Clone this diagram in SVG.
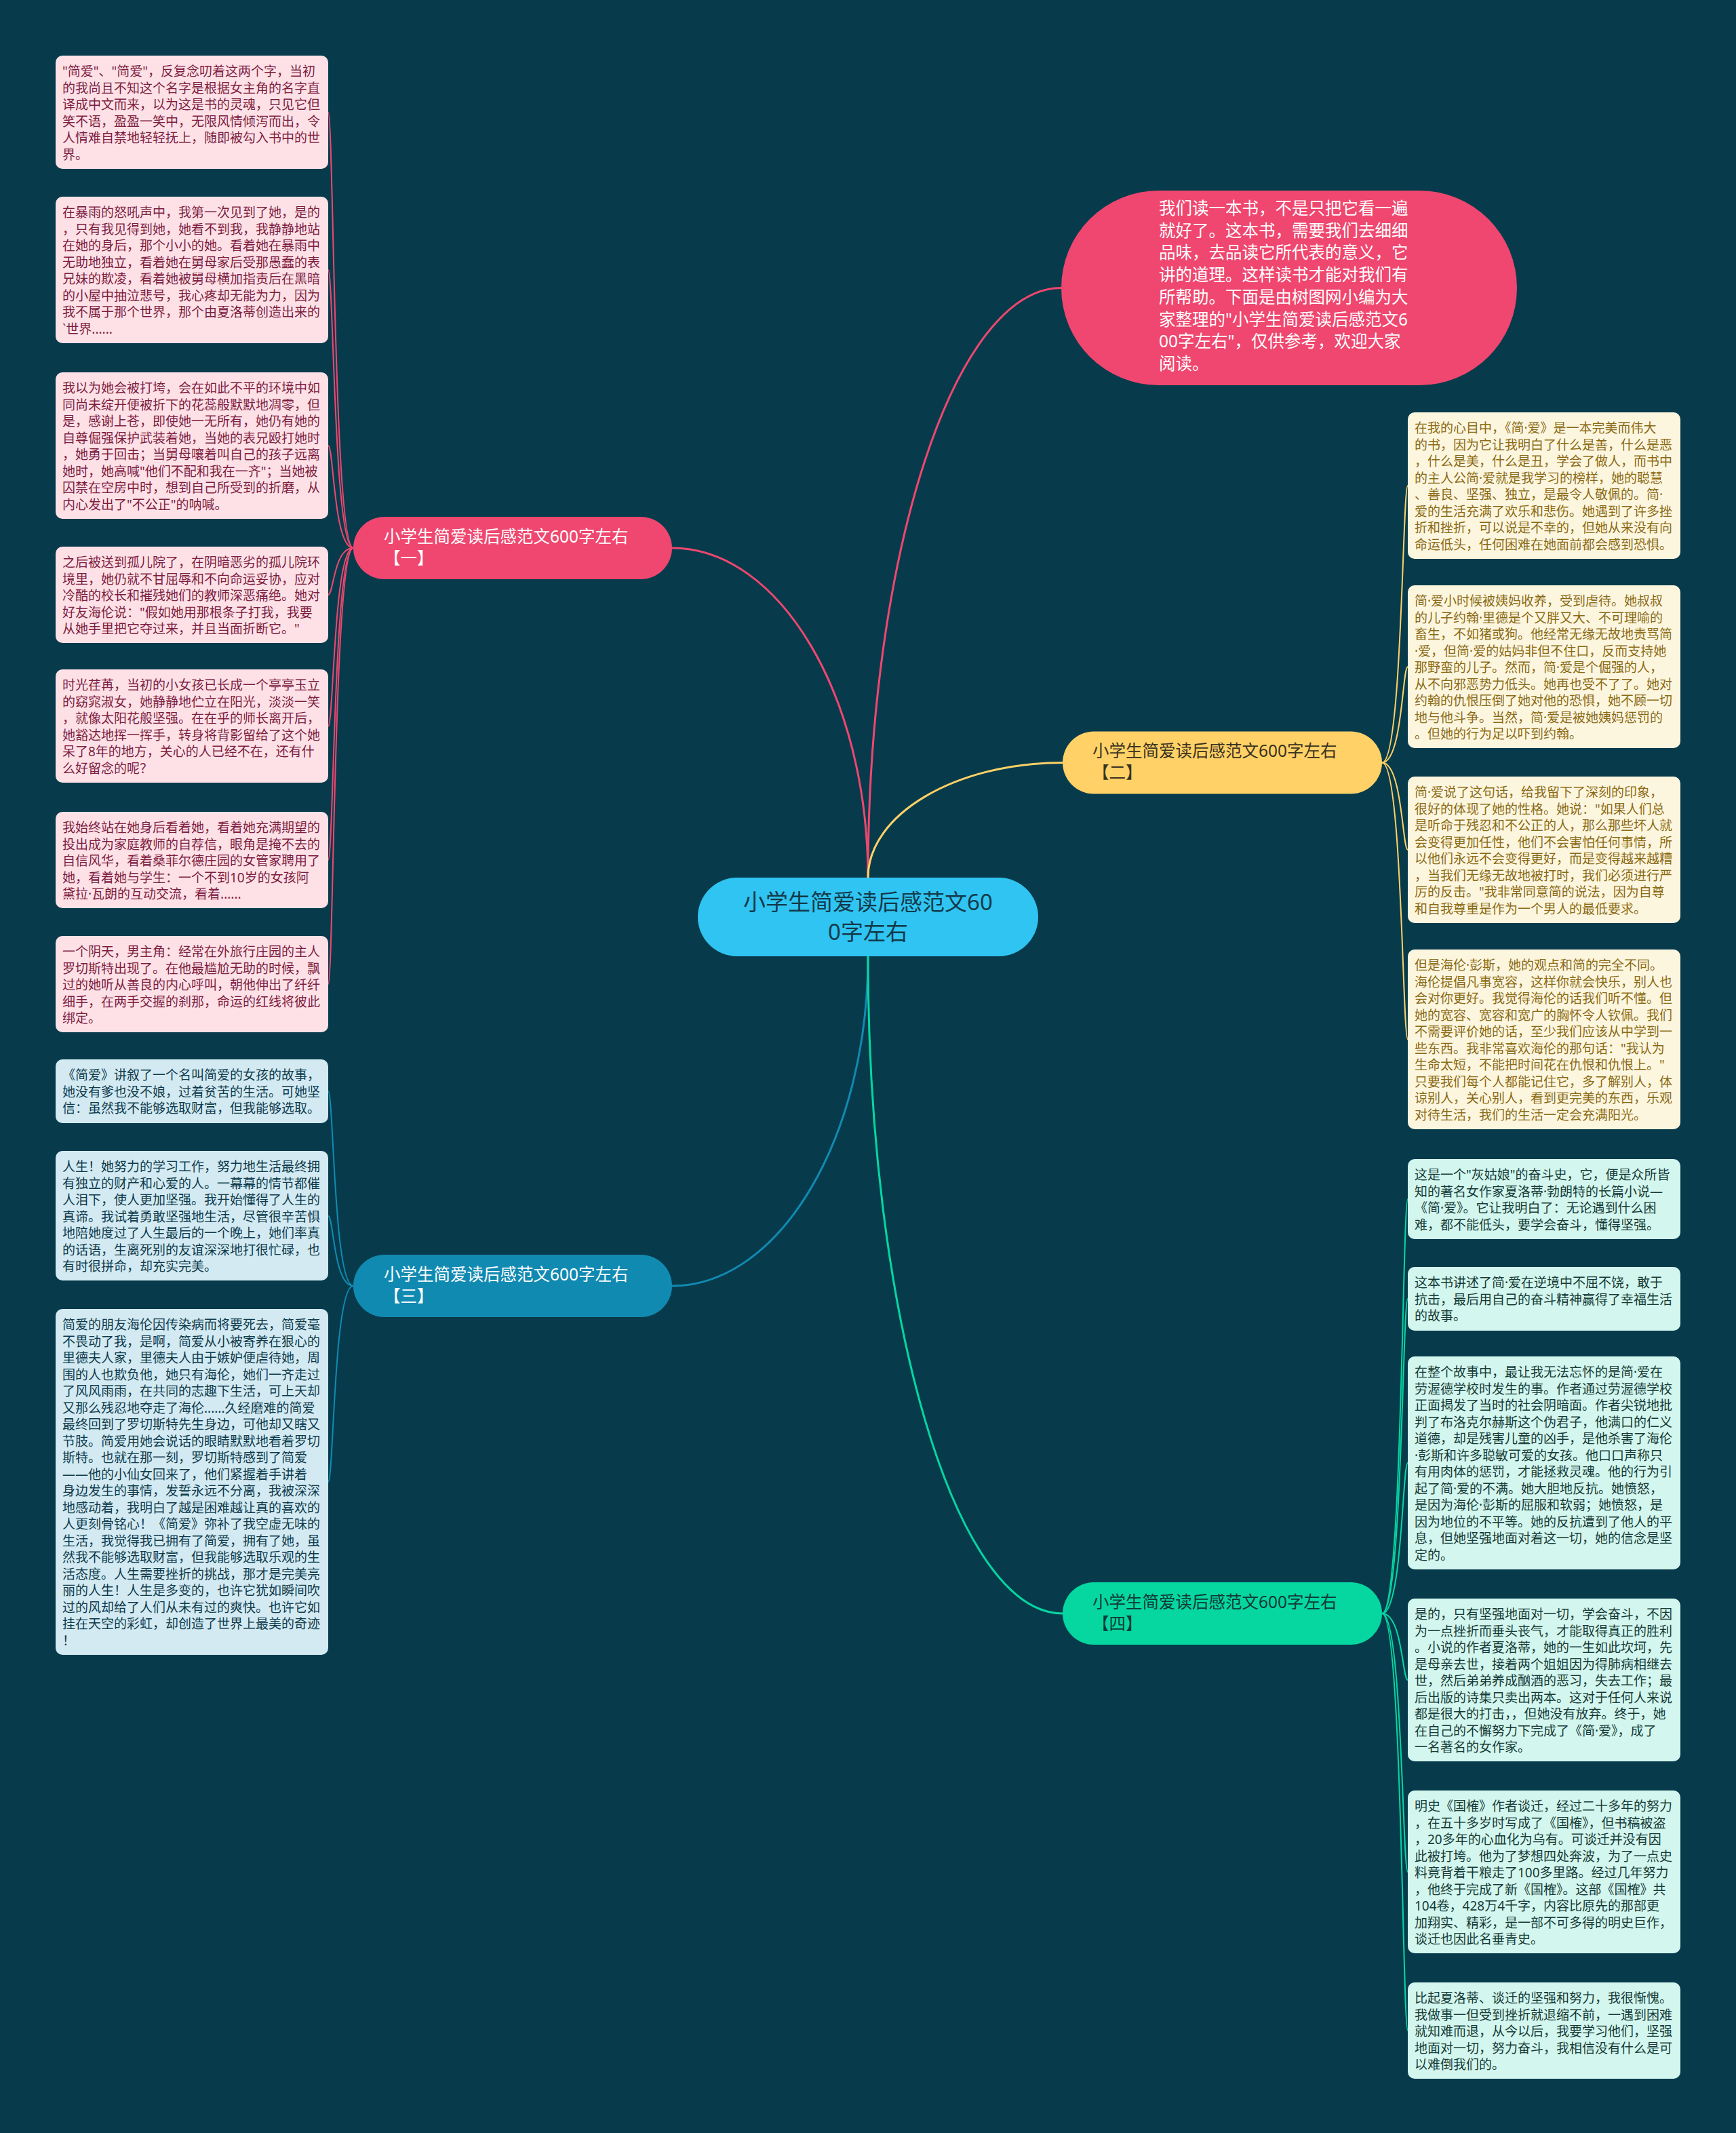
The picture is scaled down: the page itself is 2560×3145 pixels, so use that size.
<svg xmlns="http://www.w3.org/2000/svg" width="2560" height="3145" viewBox="0 0 2560 3145">
<defs>
<style>
text{font-family:"Noto Sans","Noto Sans CJK SC",sans-serif;}
.leaf{font-size:19px;}
.lp rect{fill:#fde1e7;}
.lp text{fill:#7d1d3f;}
.lb rect{fill:#d3eaf2;}
.lb text{fill:#0e3a4c;}
.ly rect{fill:#fdf6df;}
.ly text{fill:#8a6a14;}
.lg rect{fill:#d3f6ee;}
.lg text{fill:#153a36;}
.br{font-size:24.5px;}
.c{fill:none;stroke-linecap:round;}
.main{stroke-width:3;}
.sub{stroke-width:2;}
.pk{stroke:#ef476f;}
.yl{stroke:#ffd166;}
.bl{stroke:#118ab2;}
.gr{stroke:#06d6a0;}
</style>
</defs>
<rect x="0" y="0" width="2560" height="3145" fill="#073b4c"/>

<g id="connectors">
<path class="c main pk" d="M1280 1294 C1280 816 1408 424.5 1565 424.5"/>
<path class="c main pk" d="M1280 1294 C1280 1027 1150 808 991 808"/>
<path class="c main yl" d="M1280 1294 C1280 1201 1409 1124.5 1567 1124.5"/>
<path class="c main bl" d="M1280 1410 C1280 1677 1150 1896 991 1896"/>
<path class="c main gr" d="M1280 1410 C1280 1943 1409 2379 1567 2379"/>

<path class="c sub pk" d="M521 808 C492 808 492 165.5 484 165.5"/>
<path class="c sub pk" d="M521 808 C492 808 492 398 484 398"/>
<path class="c sub pk" d="M521 808 C492 808 492 657 484 657"/>
<path class="c sub pk" d="M521 808 C492 808 492 877 484 877"/>
<path class="c sub pk" d="M521 808 C492 808 492 1070.5 484 1070.5"/>
<path class="c sub pk" d="M521 808 C492 808 492 1268 484 1268"/>
<path class="c sub pk" d="M521 808 C492 808 492 1451 484 1451"/>

<path class="c sub bl" d="M521 1896 C492 1896 492 1609 484 1609"/>
<path class="c sub bl" d="M521 1896 C492 1896 492 1793 484 1793"/>
<path class="c sub bl" d="M521 1896 C492 1896 492 2185 484 2185"/>

<path class="c sub yl" d="M2038 1124.5 C2068 1124.5 2068 716 2076 716"/>
<path class="c sub yl" d="M2038 1124.5 C2068 1124.5 2068 983 2076 983"/>
<path class="c sub yl" d="M2038 1124.5 C2068 1124.5 2068 1253 2076 1253"/>
<path class="c sub yl" d="M2038 1124.5 C2068 1124.5 2068 1532.5 2076 1532.5"/>

<path class="c sub gr" d="M2038 2379 C2068 2379 2068 1768 2076 1768"/>
<path class="c sub gr" d="M2038 2379 C2068 2379 2068 1915 2076 1915"/>
<path class="c sub gr" d="M2038 2379 C2068 2379 2068 2157 2076 2157"/>
<path class="c sub gr" d="M2038 2379 C2068 2379 2068 2477 2076 2477"/>
<path class="c sub gr" d="M2038 2379 C2068 2379 2068 2760 2076 2760"/>
<path class="c sub gr" d="M2038 2379 C2068 2379 2068 2994 2076 2994"/>
</g>

<g id="center">
<rect x="1029" y="1294" width="502" height="116" rx="58" fill="#30c4f2"/>
<text x="1280" y="1342" font-size="33" fill="#123a4a" text-anchor="middle"><tspan x="1280">小学生简爱读后感范文60</tspan><tspan x="1280" dy="44">0字左右</tspan></text>
</g>

<g id="intro">
<rect x="1565" y="281" width="672" height="287" rx="143.5" fill="#ef476f"/>
<text x="1709" y="316" font-size="24.5" fill="#ffffff"><tspan x="1709">我们读一本书，不是只把它看一遍</tspan><tspan x="1709" dy="32.7">就好了。这本书，需要我们去细细</tspan><tspan x="1709" dy="32.7">品味，去品读它所代表的意义，它</tspan><tspan x="1709" dy="32.7">讲的道理。这样读书才能对我们有</tspan><tspan x="1709" dy="32.7">所帮助。下面是由树图网小编为大</tspan><tspan x="1709" dy="32.7">家整理的"小学生简爱读后感范文6</tspan><tspan x="1709" dy="32.7">00字左右"，仅供参考，欢迎大家</tspan><tspan x="1709" dy="32.7">阅读。</tspan></text>
</g>

<g id="branch1">
<rect x="521" y="762" width="470" height="92" rx="46" fill="#ef476f"/>
<text class="br" x="566" y="799.5" fill="#ffffff"><tspan x="566">小学生简爱读后感范文600字左右</tspan><tspan x="566" dy="32">【一】</tspan></text>
</g>
<g id="branch2">
<rect x="1567" y="1078.5" width="471" height="92" rx="46" fill="#ffd166"/>
<text class="br" x="1611" y="1116" fill="#3a3220"><tspan x="1611">小学生简爱读后感范文600字左右</tspan><tspan x="1611" dy="32">【二】</tspan></text>
</g>
<g id="branch3">
<rect x="521" y="1850" width="470" height="92" rx="46" fill="#118ab2"/>
<text class="br" x="566" y="1887.5" fill="#ffffff"><tspan x="566">小学生简爱读后感范文600字左右</tspan><tspan x="566" dy="32">【三】</tspan></text>
</g>
<g id="branch4">
<rect x="1567" y="2333" width="471" height="92" rx="46" fill="#06d6a0"/>
<text class="br" x="1611" y="2370.5" fill="#0f3a35"><tspan x="1611">小学生简爱读后感范文600字左右</tspan><tspan x="1611" dy="32">【四】</tspan></text>
</g>

<g id="leaf-l1" class="lp">
<rect x="82" y="82" width="402" height="167" rx="10"/>
<text class="leaf" x="92" y="112"><tspan x="92">"简爱"、"简爱"，反复念叨着这两个字，当初</tspan><tspan x="92" dy="24.5">的我尚且不知这个名字是根据女主角的名字直</tspan><tspan x="92" dy="24.5">译成中文而来，以为这是书的灵魂，只见它但</tspan><tspan x="92" dy="24.5">笑不语，盈盈一笑中，无限风情倾泻而出，令</tspan><tspan x="92" dy="24.5">人情难自禁地轻轻抚上，随即被勾入书中的世</tspan><tspan x="92" dy="24.5">界。</tspan></text>
</g>
<g id="leaf-l2" class="lp">
<rect x="82" y="290" width="402" height="216" rx="10"/>
<text class="leaf" x="92" y="320"><tspan x="92">在暴雨的怒吼声中，我第一次见到了她，是的</tspan><tspan x="92" dy="24.5">，只有我见得到她，她看不到我，我静静地站</tspan><tspan x="92" dy="24.5">在她的身后，那个小小的她。看着她在暴雨中</tspan><tspan x="92" dy="24.5">无助地独立，看着她在舅母家后受那愚蠢的表</tspan><tspan x="92" dy="24.5">兄妹的欺凌，看着她被舅母横加指责后在黑暗</tspan><tspan x="92" dy="24.5">的小屋中抽泣悲号，我心疼却无能为力，因为</tspan><tspan x="92" dy="24.5">我不属于那个世界，那个由夏洛蒂创造出来的</tspan><tspan x="92" dy="24.5">`世界......</tspan></text>
</g>
<g id="leaf-l3" class="lp">
<rect x="82" y="549" width="402" height="216" rx="10"/>
<text class="leaf" x="92" y="579"><tspan x="92">我以为她会被打垮，会在如此不平的环境中如</tspan><tspan x="92" dy="24.5">同尚未绽开便被折下的花蕊般默默地凋零，但</tspan><tspan x="92" dy="24.5">是，感谢上苍，即使她一无所有，她仍有她的</tspan><tspan x="92" dy="24.5">自尊倔强保护武装着她，当她的表兄殴打她时</tspan><tspan x="92" dy="24.5">，她勇于回击；当舅母嚷着叫自己的孩子远离</tspan><tspan x="92" dy="24.5">她时，她高喊"他们不配和我在一齐"；当她被</tspan><tspan x="92" dy="24.5">囚禁在空房中时，想到自己所受到的折磨，从</tspan><tspan x="92" dy="24.5">内心发出了"不公正"的呐喊。</tspan></text>
</g>
<g id="leaf-l4" class="lp">
<rect x="82" y="806" width="402" height="142" rx="10"/>
<text class="leaf" x="92" y="836"><tspan x="92">之后被送到孤儿院了，在阴暗恶劣的孤儿院环</tspan><tspan x="92" dy="24.5">境里，她仍就不甘屈辱和不向命运妥协，应对</tspan><tspan x="92" dy="24.5">冷酷的校长和摧残她们的教师深恶痛绝。她对</tspan><tspan x="92" dy="24.5">好友海伦说："假如她用那根条子打我，我要</tspan><tspan x="92" dy="24.5">从她手里把它夺过来，并且当面折断它。"</tspan></text>
</g>
<g id="leaf-l5" class="lp">
<rect x="82" y="987" width="402" height="167" rx="10"/>
<text class="leaf" x="92" y="1017"><tspan x="92">时光荏苒，当初的小女孩已长成一个亭亭玉立</tspan><tspan x="92" dy="24.5">的窈窕淑女，她静静地伫立在阳光，淡淡一笑</tspan><tspan x="92" dy="24.5">，就像太阳花般坚强。在在乎的师长离开后，</tspan><tspan x="92" dy="24.5">她豁达地挥一挥手，转身将背影留给了这个她</tspan><tspan x="92" dy="24.5">呆了8年的地方，关心的人已经不在，还有什</tspan><tspan x="92" dy="24.5">么好留念的呢？</tspan></text>
</g>
<g id="leaf-l6" class="lp">
<rect x="82" y="1197" width="402" height="142" rx="10"/>
<text class="leaf" x="92" y="1227"><tspan x="92">我始终站在她身后看着她，看着她充满期望的</tspan><tspan x="92" dy="24.5">投出成为家庭教师的自荐信，眼角是掩不去的</tspan><tspan x="92" dy="24.5">自信风华，看着桑菲尔德庄园的女管家聘用了</tspan><tspan x="92" dy="24.5">她，看着她与学生：一个不到10岁的女孩阿</tspan><tspan x="92" dy="24.5">黛拉·瓦朗的互动交流，看着......</tspan></text>
</g>
<g id="leaf-l7" class="lp">
<rect x="82" y="1380" width="402" height="142" rx="10"/>
<text class="leaf" x="92" y="1410"><tspan x="92">一个阴天，男主角：经常在外旅行庄园的主人</tspan><tspan x="92" dy="24.5">罗切斯特出现了。在他最尴尬无助的时候，飘</tspan><tspan x="92" dy="24.5">过的她听从善良的内心呼叫，朝他伸出了纤纤</tspan><tspan x="92" dy="24.5">细手，在两手交握的刹那，命运的红线将彼此</tspan><tspan x="92" dy="24.5">绑定。</tspan></text>
</g>

<g id="leaf-l8" class="lb">
<rect x="82" y="1562" width="402" height="94" rx="10"/>
<text class="leaf" x="92" y="1592"><tspan x="92">《简爱》讲叙了一个名叫简爱的女孩的故事，</tspan><tspan x="92" dy="24.5">她没有爹也没不娘，过着贫苦的生活。可她坚</tspan><tspan x="92" dy="24.5">信：虽然我不能够选取财富，但我能够选取。</tspan></text>
</g>
<g id="leaf-l9" class="lb">
<rect x="82" y="1697" width="402" height="191" rx="10"/>
<text class="leaf" x="92" y="1727"><tspan x="92">人生！她努力的学习工作，努力地生活最终拥</tspan><tspan x="92" dy="24.5">有独立的财产和心爱的人。一幕幕的情节都催</tspan><tspan x="92" dy="24.5">人泪下，使人更加坚强。我开始懂得了人生的</tspan><tspan x="92" dy="24.5">真谛。我试着勇敢坚强地生活，尽管很辛苦惧</tspan><tspan x="92" dy="24.5">地陪她度过了人生最后的一个晚上，她们率真</tspan><tspan x="92" dy="24.5">的话语，生离死别的友谊深深地打很忙碌，也</tspan><tspan x="92" dy="24.5">有时很拼命，却充实完美。</tspan></text>
</g>
<g id="leaf-l10" class="lb">
<rect x="82" y="1930" width="402" height="510" rx="10"/>
<text class="leaf" x="92" y="1960"><tspan x="92">简爱的朋友海伦因传染病而将要死去，简爱毫</tspan><tspan x="92" dy="24.5">不畏动了我，是啊，简爱从小被寄养在狠心的</tspan><tspan x="92" dy="24.5">里德夫人家，里德夫人由于嫉妒便虐待她，周</tspan><tspan x="92" dy="24.5">围的人也欺负他，她只有海伦，她们一齐走过</tspan><tspan x="92" dy="24.5">了风风雨雨，在共同的志趣下生活，可上天却</tspan><tspan x="92" dy="24.5">又那么残忍地夺走了海伦......久经磨难的简爱</tspan><tspan x="92" dy="24.5">最终回到了罗切斯特先生身边，可他却又瞎又</tspan><tspan x="92" dy="24.5">节肢。简爱用她会说话的眼睛默默地看着罗切</tspan><tspan x="92" dy="24.5">斯特。也就在那一刻，罗切斯特感到了简爱</tspan><tspan x="92" dy="24.5">——他的小仙女回来了，他们紧握着手讲着</tspan><tspan x="92" dy="24.5">身边发生的事情，发誓永远不分离，我被深深</tspan><tspan x="92" dy="24.5">地感动着，我明白了越是困难越让真的喜欢的</tspan><tspan x="92" dy="24.5">人更刻骨铭心！《简爱》弥补了我空虚无味的</tspan><tspan x="92" dy="24.5">生活，我觉得我已拥有了简爱，拥有了她，虽</tspan><tspan x="92" dy="24.5">然我不能够选取财富，但我能够选取乐观的生</tspan><tspan x="92" dy="24.5">活态度。人生需要挫折的挑战，那才是完美亮</tspan><tspan x="92" dy="24.5">丽的人生！人生是多变的，也许它犹如瞬间吹</tspan><tspan x="92" dy="24.5">过的风却给了人们从未有过的爽快。也许它如</tspan><tspan x="92" dy="24.5">挂在天空的彩虹，却创造了世界上最美的奇迹</tspan><tspan x="92" dy="24.5">！</tspan></text>
</g>

<g id="leaf-r1" class="ly">
<rect x="2076" y="608" width="402" height="216" rx="10"/>
<text class="leaf" x="2086" y="638"><tspan x="2086">在我的心目中，《简·爱》是一本完美而伟大</tspan><tspan x="2086" dy="24.5">的书，因为它让我明白了什么是善，什么是恶</tspan><tspan x="2086" dy="24.5">，什么是美，什么是丑，学会了做人，而书中</tspan><tspan x="2086" dy="24.5">的主人公简·爱就是我学习的榜样，她的聪慧</tspan><tspan x="2086" dy="24.5">、善良、坚强、独立，是最令人敬佩的。简·</tspan><tspan x="2086" dy="24.5">爱的生活充满了欢乐和悲伤。她遇到了许多挫</tspan><tspan x="2086" dy="24.5">折和挫折，可以说是不幸的，但她从来没有向</tspan><tspan x="2086" dy="24.5">命运低头，任何困难在她面前都会感到恐惧。</tspan></text>
</g>
<g id="leaf-r2" class="ly">
<rect x="2076" y="863" width="402" height="240" rx="10"/>
<text class="leaf" x="2086" y="893"><tspan x="2086">简·爱小时候被姨妈收养，受到虐待。她叔叔</tspan><tspan x="2086" dy="24.5">的儿子约翰·里德是个又胖又大、不可理喻的</tspan><tspan x="2086" dy="24.5">畜生，不如猪或狗。他经常无缘无故地责骂简</tspan><tspan x="2086" dy="24.5">·爱，但简·爱的姑妈非但不住口，反而支持她</tspan><tspan x="2086" dy="24.5">那野蛮的儿子。然而，简·爱是个倔强的人，</tspan><tspan x="2086" dy="24.5">从不向邪恶势力低头。她再也受不了了。她对</tspan><tspan x="2086" dy="24.5">约翰的仇恨压倒了她对他的恐惧，她不顾一切</tspan><tspan x="2086" dy="24.5">地与他斗争。当然，简·爱是被她姨妈惩罚的</tspan><tspan x="2086" dy="24.5">。但她的行为足以吓到约翰。</tspan></text>
</g>
<g id="leaf-r3" class="ly">
<rect x="2076" y="1145" width="402" height="216" rx="10"/>
<text class="leaf" x="2086" y="1175"><tspan x="2086">简·爱说了这句话，给我留下了深刻的印象，</tspan><tspan x="2086" dy="24.5">很好的体现了她的性格。她说："如果人们总</tspan><tspan x="2086" dy="24.5">是听命于残忍和不公正的人，那么那些坏人就</tspan><tspan x="2086" dy="24.5">会变得更加任性，他们不会害怕任何事情，所</tspan><tspan x="2086" dy="24.5">以他们永远不会变得更好，而是变得越来越糟</tspan><tspan x="2086" dy="24.5">，当我们无缘无故地被打时，我们必须进行严</tspan><tspan x="2086" dy="24.5">厉的反击。"我非常同意简的说法，因为自尊</tspan><tspan x="2086" dy="24.5">和自我尊重是作为一个男人的最低要求。</tspan></text>
</g>
<g id="leaf-r4" class="ly">
<rect x="2076" y="1400" width="402" height="265" rx="10"/>
<text class="leaf" x="2086" y="1430"><tspan x="2086">但是海伦·彭斯，她的观点和简的完全不同。</tspan><tspan x="2086" dy="24.5">海伦提倡凡事宽容，这样你就会快乐，别人也</tspan><tspan x="2086" dy="24.5">会对你更好。我觉得海伦的话我们听不懂。但</tspan><tspan x="2086" dy="24.5">她的宽容、宽容和宽广的胸怀令人钦佩。我们</tspan><tspan x="2086" dy="24.5">不需要评价她的话，至少我们应该从中学到一</tspan><tspan x="2086" dy="24.5">些东西。我非常喜欢海伦的那句话："我认为</tspan><tspan x="2086" dy="24.5">生命太短，不能把时间花在仇恨和仇恨上。"</tspan><tspan x="2086" dy="24.5">只要我们每个人都能记住它，多了解别人，体</tspan><tspan x="2086" dy="24.5">谅别人，关心别人，看到更完美的东西，乐观</tspan><tspan x="2086" dy="24.5">对待生活，我们的生活一定会充满阳光。</tspan></text>
</g>

<g id="leaf-r5" class="lg">
<rect x="2076" y="1709" width="402" height="118" rx="10"/>
<text class="leaf" x="2086" y="1739"><tspan x="2086">这是一个"灰姑娘"的奋斗史，它，便是众所皆</tspan><tspan x="2086" dy="24.5">知的著名女作家夏洛蒂·勃朗特的长篇小说—</tspan><tspan x="2086" dy="24.5">《简·爱》。它让我明白了：无论遇到什么困</tspan><tspan x="2086" dy="24.5">难，都不能低头，要学会奋斗，懂得坚强。</tspan></text>
</g>
<g id="leaf-r6" class="lg">
<rect x="2076" y="1868" width="402" height="94" rx="10"/>
<text class="leaf" x="2086" y="1898"><tspan x="2086">这本书讲述了简·爱在逆境中不屈不饶，敢于</tspan><tspan x="2086" dy="24.5">抗击，最后用自己的奋斗精神赢得了幸福生活</tspan><tspan x="2086" dy="24.5">的故事。</tspan></text>
</g>
<g id="leaf-r7" class="lg">
<rect x="2076" y="2000" width="402" height="314" rx="10"/>
<text class="leaf" x="2086" y="2030"><tspan x="2086">在整个故事中，最让我无法忘怀的是简·爱在</tspan><tspan x="2086" dy="24.5">劳渥德学校时发生的事。作者通过劳渥德学校</tspan><tspan x="2086" dy="24.5">正面揭发了当时的社会阴暗面。作者尖锐地批</tspan><tspan x="2086" dy="24.5">判了布洛克尔赫斯这个伪君子，他满口的仁义</tspan><tspan x="2086" dy="24.5">道德，却是残害儿童的凶手，是他杀害了海伦</tspan><tspan x="2086" dy="24.5">·彭斯和许多聪敏可爱的女孩。他口口声称只</tspan><tspan x="2086" dy="24.5">有用肉体的惩罚，才能拯救灵魂。他的行为引</tspan><tspan x="2086" dy="24.5">起了简·爱的不满。她大胆地反抗。她愤怒，</tspan><tspan x="2086" dy="24.5">是因为海伦·彭斯的屈服和软弱；她愤怒，是</tspan><tspan x="2086" dy="24.5">因为地位的不平等。她的反抗遭到了他人的平</tspan><tspan x="2086" dy="24.5">息，但她坚强地面对着这一切，她的信念是坚</tspan><tspan x="2086" dy="24.5">定的。</tspan></text>
</g>
<g id="leaf-r8" class="lg">
<rect x="2076" y="2357" width="402" height="240" rx="10"/>
<text class="leaf" x="2086" y="2387"><tspan x="2086">是的，只有坚强地面对一切，学会奋斗，不因</tspan><tspan x="2086" dy="24.5">为一点挫折而垂头丧气，才能取得真正的胜利</tspan><tspan x="2086" dy="24.5">。小说的作者夏洛蒂，她的一生如此坎坷，先</tspan><tspan x="2086" dy="24.5">是母亲去世，接着两个姐姐因为得肺病相继去</tspan><tspan x="2086" dy="24.5">世，然后弟弟养成酗酒的恶习，失去工作；最</tspan><tspan x="2086" dy="24.5">后出版的诗集只卖出两本。这对于任何人来说</tspan><tspan x="2086" dy="24.5">都是很大的打击，，但她没有放弃。终于，她</tspan><tspan x="2086" dy="24.5">在自己的不懈努力下完成了《简·爱》，成了</tspan><tspan x="2086" dy="24.5">一名著名的女作家。</tspan></text>
</g>
<g id="leaf-r9" class="lg">
<rect x="2076" y="2640" width="402" height="240" rx="10"/>
<text class="leaf" x="2086" y="2670"><tspan x="2086">明史《国榷》作者谈迁，经过二十多年的努力</tspan><tspan x="2086" dy="24.5">，在五十多岁时写成了《国榷》，但书稿被盗</tspan><tspan x="2086" dy="24.5">，20多年的心血化为乌有。可谈迁并没有因</tspan><tspan x="2086" dy="24.5">此被打垮。他为了梦想四处奔波，为了一点史</tspan><tspan x="2086" dy="24.5">料竟背着干粮走了100多里路。经过几年努力</tspan><tspan x="2086" dy="24.5">，他终于完成了新《国榷》。这部《国榷》共</tspan><tspan x="2086" dy="24.5">104卷，428万4千字，内容比原先的那部更</tspan><tspan x="2086" dy="24.5">加翔实、精彩，是一部不可多得的明史巨作，</tspan><tspan x="2086" dy="24.5">谈迁也因此名垂青史。</tspan></text>
</g>
<g id="leaf-r10" class="lg">
<rect x="2076" y="2923" width="402" height="142" rx="10"/>
<text class="leaf" x="2086" y="2953"><tspan x="2086">比起夏洛蒂、谈迁的坚强和努力，我很惭愧。</tspan><tspan x="2086" dy="24.5">我做事一但受到挫折就退缩不前，一遇到困难</tspan><tspan x="2086" dy="24.5">就知难而退，从今以后，我要学习他们，坚强</tspan><tspan x="2086" dy="24.5">地面对一切，努力奋斗，我相信没有什么是可</tspan><tspan x="2086" dy="24.5">以难倒我们的。</tspan></text>
</g>
</svg>
